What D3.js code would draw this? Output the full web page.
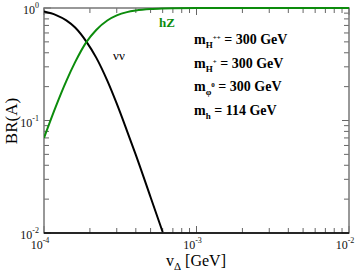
<!DOCTYPE html>
<html>
<head>
<meta charset="utf-8">
<script src="https://cdn.jsdelivr.net/npm/d3@7"></script>
<style>
  body { margin: 0; background: #fff; }
  svg text { font-family: "Liberation Serif", "Times New Roman", "DejaVu Serif", serif; }
</style>
</head>
<body>
<svg id="chart" width="360" height="275"></svg>
<script>
// vDelta values [GeV]
const vDelta = [1e-4, 1.2e-4, 1.4e-4, 1.6e-4, 1.9e-4, 2.2e-4, 2.6e-4, 3e-4, 3.5e-4, 4e-4, 5e-4, 6e-4, 7e-4, 1e-3, 2e-3, 1e-2];
const brNuNu = [0.93, 0.865, 0.776, 0.67, 0.5, 0.362, 0.226, 0.141, 0.081, 0.0495, 0.0208, 0.0102, null, null, null, null];
const brHZ   = [0.07, 0.135, 0.224, 0.33, 0.5, 0.638, 0.774, 0.859, 0.919, 0.95, 0.979, 0.99, 0.995, 0.999, 1.0, 1.0];
const xTicks = [1e-4, 1e-3, 1e-2];
const yTicks = [1e-2, 1e-1, 1];
const xExp = ["-4", "-3", "-2"];
const yExp = ["-2", "-1", "0"];
const notes = [
  { m: "m", sub: "H", sup: "++", rest: " = 300 GeV" },
  { m: "m", sub: "H", sup: "+", rest: " = 300 GeV" },
  { m: "m", sub: "\u03c6", sup: "0", rest: " = 300 GeV" },
  { m: "m", sub: "h", sup: "", rest: " = 114 GeV" }
];

const green = "#0c8c0c";
const svg = d3.select("#chart");
const m = { left: 44, right: 11, top: 8, bottom: 42 };
const W = 360, H = 275;
const x = d3.scaleLog().domain([1e-4, 1e-2]).range([m.left, W - m.right]);
const y = d3.scaleLog().domain([1e-2, 1]).range([H - m.bottom, m.top]);

// minor ticks
const minors = [];
for (let d = -4; d < -2; d++) for (let k = 2; k < 10; k++) minors.push(k * Math.pow(10, d));
const yMinors = [];
for (let d = -2; d < 0; d++) for (let k = 2; k < 10; k++) yMinors.push(k * Math.pow(10, d));

const g = svg.append("g");
const x0 = m.left, x1 = W - m.right, y0 = H - m.bottom, y1 = m.top;

// ticks bottom / top
xTicks.forEach(v => {
  g.append("line").attr("x1", x(v)).attr("x2", x(v)).attr("y1", y0).attr("y2", y0 - 7).attr("stroke", "#666");
  g.append("line").attr("x1", x(v)).attr("x2", x(v)).attr("y1", y1).attr("y2", y1 + 7).attr("stroke", "#666");
});
minors.forEach(v => {
  g.append("line").attr("x1", x(v)).attr("x2", x(v)).attr("y1", y0).attr("y2", y0 - 5).attr("stroke", "#666");
  g.append("line").attr("x1", x(v)).attr("x2", x(v)).attr("y1", y1).attr("y2", y1 + 5).attr("stroke", "#666");
});
yTicks.forEach(v => {
  g.append("line").attr("x1", x0).attr("x2", x0 + 7).attr("y1", y(v)).attr("y2", y(v)).attr("stroke", "#666");
  g.append("line").attr("x1", x1).attr("x2", x1 - 7).attr("y1", y(v)).attr("y2", y(v)).attr("stroke", "#666");
});
yMinors.forEach(v => {
  g.append("line").attr("x1", x0).attr("x2", x0 + 5).attr("y1", y(v)).attr("y2", y(v)).attr("stroke", "#666");
  g.append("line").attr("x1", x1).attr("x2", x1 - 5).attr("y1", y(v)).attr("y2", y(v)).attr("stroke", "#666");
});

// frame
g.append("rect").attr("x", x0).attr("y", y1).attr("width", x1 - x0).attr("height", y0 - y1)
  .attr("fill", "none").attr("stroke", "#777").attr("stroke-width", 1.5);
g.append("line").attr("x1", x0).attr("x2", x1).attr("y1", y0).attr("y2", y0).attr("stroke", "#000").attr("stroke-width", 1.5);

// tick labels
xTicks.forEach((v, i) => {
  const t = g.append("text").attr("x", x(v) - 4).attr("y", y0 + 16).attr("text-anchor", "middle")
    .attr("font-size", 12).attr("fill", "#111");
  t.append("tspan").text("10");
  t.append("tspan").attr("font-size", 8).attr("dy", -6).text(xExp[i]);
});
yTicks.forEach((v, i) => {
  const t = g.append("text").attr("x", x0 - 5).attr("y", y(v) + 6).attr("text-anchor", "end")
    .attr("font-size", 12).attr("fill", "#111");
  t.append("tspan").text("10");
  t.append("tspan").attr("font-size", 8).attr("dy", -6).text(yExp[i]);
});

// curves
svg.append("clipPath").attr("id", "clip").append("rect")
  .attr("x", x0).attr("y", y1 - 1).attr("width", x1 - x0).attr("height", y0 - y1 + 1);
const line = d3.line().x(d => x(d[0])).y(d => y(d[1])).curve(d3.curveMonotoneX);
const nn = vDelta.map((v, i) => [v, brNuNu[i]]).filter(d => d[1] != null);
svg.append("path").attr("clip-path", "url(#clip)").attr("d", line(nn))
  .attr("fill", "none").attr("stroke", "#000").attr("stroke-width", 2);
svg.append("path").attr("clip-path", "url(#clip)").attr("d", line(vDelta.map((v, i) => [v, brHZ[i]])))
  .attr("fill", "none").attr("stroke", green).attr("stroke-width", 2);

// curve labels
svg.append("text").attr("x", 113).attr("y", 60).attr("font-size", 13).text("\u03bd\u03bd");
svg.append("text").attr("x", 159).attr("y", 27).attr("font-size", 13).attr("font-weight", "bold")
  .attr("fill", green).text("hZ");

// mass notes
notes.forEach((n, i) => {
  const t = svg.append("text").attr("x", 194).attr("y", 44 + i * 23.5).attr("font-size", 14).attr("font-weight", "bold");
  t.append("tspan").text(n.m);
  t.append("tspan").attr("font-size", 9).attr("dy", 4).text(n.sub);
  if (n.sup) t.append("tspan").attr("font-size", 7).attr("dy", -8).text(n.sup);
  t.append("tspan").attr("dy", n.sup ? 4 : -4).text(n.rest);
});

// axis titles
const xl = svg.append("text").attr("x", 196).attr("y", 266).attr("text-anchor", "middle").attr("font-size", 16);
xl.append("tspan").text("v");
xl.append("tspan").attr("font-size", 11).attr("dy", 4).text("\u0394");
xl.append("tspan").attr("dy", -4).text(" [GeV]");
svg.append("text").attr("transform", "translate(17,121) rotate(-90)").attr("text-anchor", "middle")
  .attr("font-size", 17).text("BR(A)");
</script>
</body>
</html>
